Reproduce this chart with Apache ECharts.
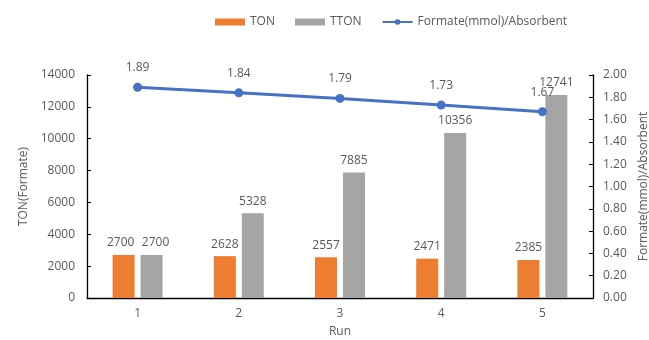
<!DOCTYPE html>
<html><head><meta charset="utf-8">
<script src="https://cdn.jsdelivr.net/npm/echarts@6/dist/echarts.min.js"></script>
<style>html,body{margin:0;padding:0;background:#fff}#c{width:649px;height:340px}</style>
</head><body><div id="c"></div>
<script>
const categories = ['1','2','3','4','5'];
const ton = [2700, 2628, 2557, 2471, 2385];
const tton = [2700, 5328, 7885, 10356, 12741];
const formate = [1.89, 1.84, 1.79, 1.73, 1.67];

const txt = '#595959';
const font = '"Open Sans", "Noto Sans", sans-serif';
// nudge the two overlapping labels of run 1 apart, as the reference does
const tonData = ton.map((v, i) => i === 0 ? {value: v, label: {offset: [-3, 0]}} : v);
const ttonData = tton.map((v, i) => i === 0 ? {value: v, label: {offset: [4, 0]}} : v);

const chart = echarts.init(document.getElementById('c'));
chart.setOption({
  animation: false,
  textStyle: {fontFamily: font},
  legend: {
    top: 11, left: 210, itemGap: 20, itemWidth: 30, itemHeight: 7,
    textStyle: {color: txt, fontSize: 12, fontFamily: font},
    data: [
      {name: 'TON', icon: 'rect'},
      {name: 'TTON', icon: 'rect'},
      {name: 'Formate(mmol)/Absorbent'}
    ]
  },
  grid: {left: 87, right: 56, top: 75, bottom: 42, containLabel: false, outerBoundsMode: 'none'},
  xAxis: {
    type: 'category', data: categories,
    name: 'Run', nameLocation: 'middle', nameGap: 28,
    nameTextStyle: {color: txt, fontSize: 12},
    axisLine: {lineStyle: {color: '#000', width: 1.3}},
    axisTick: {inside: true, length: 5, lineStyle: {color: '#000'}},
    axisLabel: {color: txt, fontSize: 12, margin: 10}
  },
  yAxis: [{
    type: 'value', min: 0, max: 14000, interval: 2000,
    name: 'TON(Formate)', nameLocation: 'middle', nameGap: 52, nameRotate: 90,
    nameTextStyle: {color: txt, fontSize: 12},
    axisLine: {show: true, lineStyle: {color: '#000', width: 1.3}},
    axisTick: {show: true, inside: true, length: 4, lineStyle: {color: '#000'}},
    axisLabel: {color: txt, fontSize: 12, margin: 12, formatter: v => String(v)},
    splitLine: {show: false}
  }, {
    type: 'value', min: 0, max: 2, interval: 0.2,
    name: 'Formate(mmol)/Absorbent', nameLocation: 'middle', nameGap: 37, nameRotate: 90,
    nameTextStyle: {color: txt, fontSize: 12},
    axisLine: {show: true, lineStyle: {color: '#000', width: 1.3}},
    axisTick: {show: true, inside: true, length: 4, lineStyle: {color: '#000'}},
    axisLabel: {color: txt, fontSize: 12, margin: 10, formatter: v => v.toFixed(2)},
    splitLine: {show: false}
  }],
  series: [{
    name: 'TON', type: 'bar', data: tonData, barWidth: 22, barGap: '27%',
    itemStyle: {color: '#ED7D31'},
    label: {show: true, position: 'top', color: txt, fontSize: 12, distance: 6}
  }, {
    name: 'TTON', type: 'bar', data: ttonData, barWidth: 22,
    itemStyle: {color: '#A5A5A5'},
    label: {show: true, position: 'top', color: txt, fontSize: 12, distance: 6}
  }, {
    name: 'Formate(mmol)/Absorbent', type: 'line', yAxisIndex: 1, data: formate,
    symbol: 'circle', symbolSize: 9,
    lineStyle: {color: '#4472C4', width: 3},
    itemStyle: {color: '#4472C4'},
    label: {show: true, position: 'top', color: txt, fontSize: 12, distance: 9, formatter: p => p.value.toFixed(2)}
  }]
});
</script></body></html>
